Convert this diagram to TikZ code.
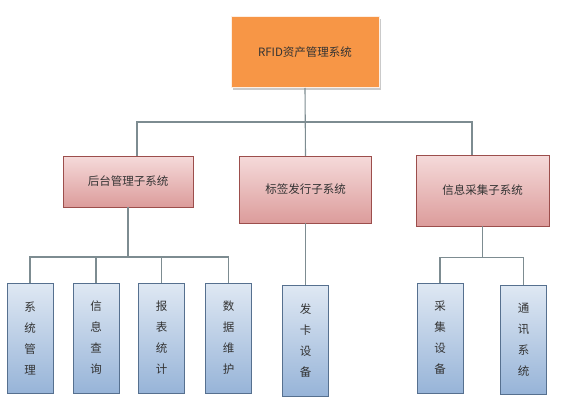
\documentclass[tikz,border=0pt]{standalone}
\usepackage{fontspec}
\newfontfamily\cjk{Noto Sans CJK SC}
\usetikzlibrary{shadows}
\definecolor{orangefill}{HTML}{F79646}
\definecolor{pinktop}{HTML}{F5DADA}
\definecolor{pinkbot}{HTML}{DC9C9B}
\definecolor{pinkline}{HTML}{9C4E4C}
\definecolor{bluetop}{HTML}{DFE8F3}
\definecolor{bluebot}{HTML}{97B4D8}
\definecolor{blueline}{HTML}{56708F}
\definecolor{conn}{HTML}{7D8C91}
\definecolor{txt}{HTML}{333333}
\tikzset{
  base/.style={inner sep=0pt, outer sep=0pt, font=\cjk\fontsize{11.5}{21}\selectfont, text=txt, align=center},
  topbox/.style={base, rectangle, fill=orangefill, draw=white!85!orangefill, line width=1pt,
    minimum width=148pt, minimum height=71pt,
    drop shadow={shadow xshift=1.5pt, shadow yshift=-2pt, opacity=0.35, fill=black!60}},
  midbox/.style={base, rectangle, top color=pinktop, bottom color=pinkbot, draw=pinkline, line width=0.8pt},
  leafbox/.style={base, rectangle, top color=bluetop, bottom color=bluebot, draw=blueline, line width=0.8pt,
    minimum width=46pt, minimum height=110pt},
  link/.style={draw=conn, line width=1.1pt}
}
\begin{document}
\begin{tikzpicture}[x=1pt, y=-1pt]
\useasboundingbox (0,0) rectangle (570,401);
\node[topbox] (top) at (305,52.5) {RFID资产管理系统};
\node[midbox, minimum width=130pt, minimum height=51pt] (b1) at (128,181.5) {后台管理子系统};
\node[midbox, minimum width=132pt, minimum height=67pt] (b2) at (305.5,189.5) {标签发行子系统};
\node[midbox, minimum width=133pt, minimum height=71pt] (b3) at (482.5,190.5) {信息采集子系统};
\node[leafbox] (a) at (30,338) {系\\统\\管\\理};
\node[leafbox] (b) at (96,338) {信\\息\\查\\询};
\node[leafbox] (c) at (161.5,338) {报\\表\\统\\计};
\node[leafbox] (d) at (228.5,338) {数\\据\\维\\护};
\node[leafbox, minimum height=111pt] (e) at (305.5,340.5) {发\\卡\\设\\备};
\node[leafbox] (f) at (440,338) {采\\集\\设\\备};
\node[leafbox, minimum height=109pt] (g) at (523.5,339.5) {通\\讯\\系\\统};
\coordinate (h0) at (305,122);
\coordinate (h1) at (137,122);
\coordinate (h3) at (472,122);
\coordinate (j1) at (128,257);
\coordinate (j3) at (482.5,257.5);
\draw[link] (top.south) -- (b2.north);
\draw[link] (b1.north -| h1) |- (h3) -- (b3.north -| h3);
\draw[link] (b1.south) -- (j1);
\draw[link] (a.north) |- (j1) -| (d.north);
\draw[link] (b.north) -- (b.north |- j1);
\draw[link] (c.north) -- (c.north |- j1);
\draw[link] (b2.south) -- (e.north);
\draw[link] (b3.south) -- (j3);
\draw[link] (f.north) |- (j3) -| (g.north);
\end{tikzpicture}
\end{document}
